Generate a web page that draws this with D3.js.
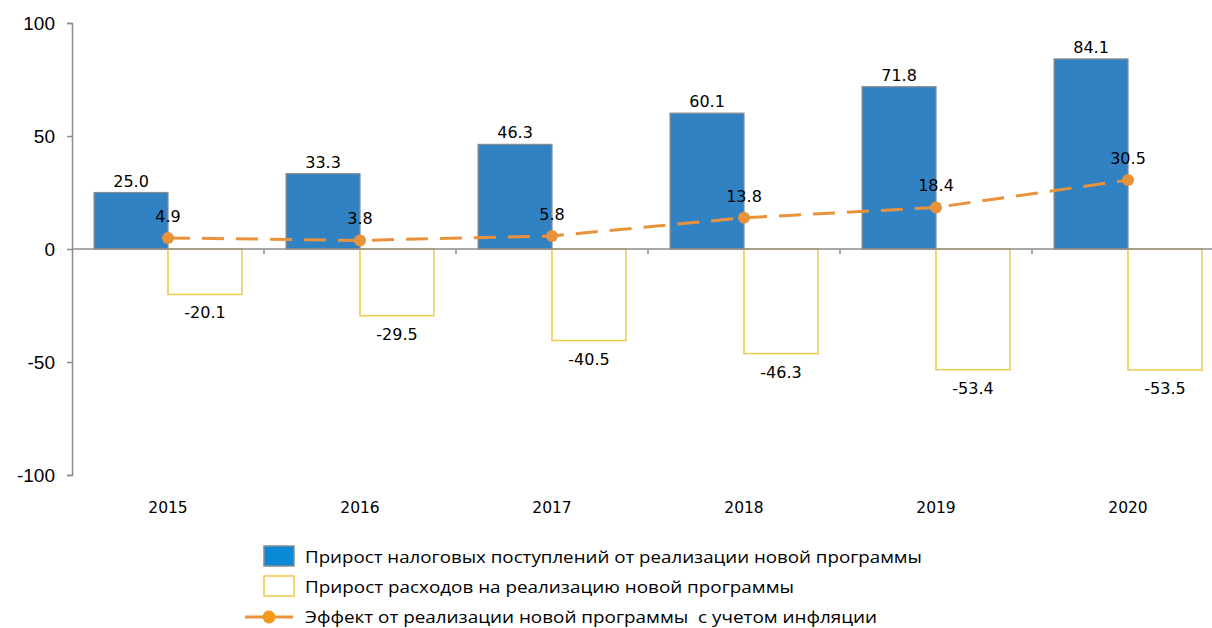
<!DOCTYPE html>
<html><head><meta charset="utf-8">
<script src="https://cdn.jsdelivr.net/npm/d3@7"></script>
<style>body{margin:0;background:#fff}svg{display:block}text{white-space:pre}</style>
</head><body><svg id="c" width="1212" height="628"></svg>
<script>
const years = ["2015","2016","2017","2018","2019","2020"];
const revenue = [25.0, 33.3, 46.3, 60.1, 71.8, 84.1];
const expenses = [-20.1, -29.5, -40.5, -46.3, -53.4, -53.5];
const effect = [4.9, 3.8, 5.8, 13.8, 18.4, 30.5];
const yTicks = [100, 50, 0, -50, -100];
const legendLabels = [
  "Прирост налоговых поступлений от реализации новой программы",
  "Прирост расходов на реализацию новой программы",
  "Эффект от реализации новой программы  с учетом инфляции"
];

const svg = d3.select("#c");
const x = d3.scaleBand().domain(years).range([72, 1224]).paddingInner(0).paddingOuter(0);
const y = d3.scaleLinear().domain([-100, 100]).range([475, 23]);
const bw = x.bandwidth() * 0.385;
const cx = d => x(d) + x.bandwidth() / 2;
const axisCol = "#8c8c8c";
const blue = "#3182c3", yellow = "#f0c84a", orange = "#e8923c";

// y axis
const ya = svg.append("g").attr("transform", "translate(72,0)")
  .call(d3.axisLeft(y).tickValues(yTicks).tickSize(5).tickPadding(12).tickFormat(d => String(d)));
ya.select(".domain").attr("stroke", axisCol).attr("stroke-width", 1.5);
ya.selectAll(".tick line").attr("stroke", axisCol).attr("stroke-width", 1.5);
ya.selectAll(".tick text").attr("font-family", "Liberation Sans, Arial, sans-serif").attr("font-size", 19).attr("fill", "#000");

// bars
svg.selectAll(".rev").data(years).join("rect")
  .attr("x", d => cx(d) - bw).attr("width", bw)
  .attr("y", (d, i) => y(revenue[i])).attr("height", (d, i) => y(0) - y(revenue[i]))
  .attr("fill", blue).attr("stroke", "#8a8a8a").attr("stroke-width", 1.2);
svg.selectAll(".exp").data(years).join("rect")
  .attr("x", d => cx(d)).attr("width", bw)
  .attr("y", y(0)).attr("height", (d, i) => y(expenses[i]) - y(0))
  .attr("fill", "none").attr("stroke", yellow).attr("stroke-width", 1.5);

// zero axis with category ticks
const xa = svg.append("g").attr("transform", `translate(0,${y(0)})`);
xa.append("line").attr("x1", 72).attr("x2", 1212).attr("stroke", axisCol).attr("stroke-width", 1.5);
xa.selectAll(".ct").data(years.slice(1)).join("line")
  .attr("x1", d => x(d)).attr("x2", d => x(d)).attr("y1", 0).attr("y2", 5)
  .attr("stroke", axisCol).attr("stroke-width", 1.5);

// category labels
svg.selectAll(".cl").data(years).join("text")
  .attr("x", d => cx(d)).attr("y", 513).attr("text-anchor", "middle")
  .attr("font-family", "DejaVu Sans, Verdana, sans-serif").attr("font-size", 15.5).text(d => d);

// line
const line = d3.line().x((d, i) => cx(years[i])).y(d => y(d));
svg.append("path").datum(effect).attr("d", line).attr("fill", "none")
  .attr("stroke", orange).attr("stroke-width", 3).attr("stroke-dasharray", "22,12");
svg.selectAll(".pt").data(effect).join("circle")
  .attr("cx", (d, i) => cx(years[i])).attr("cy", d => y(d)).attr("r", 6).attr("fill", orange);

// labels
const lf = "DejaVu Sans, Verdana, sans-serif";
svg.selectAll(".rl").data(revenue).join("text")
  .attr("x", (d, i) => cx(years[i]) - bw / 2).attr("y", d => y(d) - 6).attr("text-anchor", "middle")
  .attr("font-family", lf).attr("font-size", 16).text(d => d.toFixed(1));
svg.selectAll(".el").data(expenses).join("text")
  .attr("x", (d, i) => cx(years[i]) + bw / 2).attr("y", d => y(d) + 24).attr("text-anchor", "middle")
  .attr("font-family", lf).attr("font-size", 16).text(d => d.toFixed(1));
svg.selectAll(".fl").data(effect).join("text")
  .attr("x", (d, i) => cx(years[i])).attr("y", d => y(d) - 16).attr("text-anchor", "middle")
  .attr("font-family", lf).attr("font-size", 16).text(d => d.toFixed(1));

// legend
const lg = svg.append("g");
const lfont = "Open Sans, sans-serif";
lg.append("rect").attr("x", 264).attr("y", 546).attr("width", 30).attr("height", 20)
  .attr("fill", "#0a8ad6").attr("stroke", "#8a8a8a").attr("stroke-width", 1.5);
lg.append("rect").attr("x", 264).attr("y", 576).attr("width", 30).attr("height", 20)
  .attr("fill", "#fff").attr("stroke", yellow).attr("stroke-width", 1.5);
lg.append("line").attr("x1", 245).attr("x2", 297).attr("y1", 617).attr("y2", 617)
  .attr("stroke", orange).attr("stroke-width", 3).attr("stroke-dasharray", "19,10");
lg.append("circle").attr("cx", 269).attr("cy", 617).attr("r", 6.5).attr("fill", "#f29a1a");
lg.selectAll(".lt").data(legendLabels).join("text")
  .attr("x", 305).attr("y", (d, i) => 563 + i * 30)
  .attr("font-family", lfont).attr("font-size", 16.5).attr("fill", "#000")
  .attr("textLength", (d, i) => [617, 489, 572][i]).attr("lengthAdjust", "spacingAndGlyphs")
  .text(d => d);
</script></body></html>
